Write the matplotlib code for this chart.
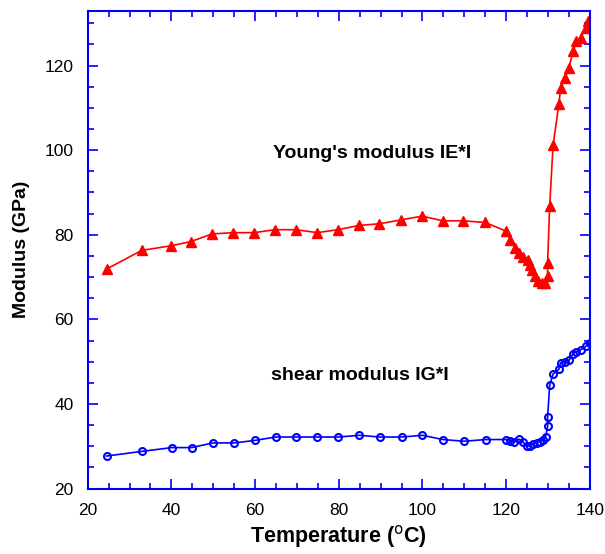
import matplotlib.pyplot as plt
from matplotlib.ticker import MultipleLocator

plt.rcParams["font.family"] = ["Liberation Sans", "DejaVu Sans"]

# Young's modulus |E*| (GPa) vs temperature (C)
young_t = [24.5, 32.9, 39.9, 44.7, 49.7, 54.8, 59.8, 64.7, 69.7, 74.9, 79.8, 84.8,
           89.7, 94.8, 99.9, 104.9, 109.7, 115.0, 119.9, 121.0, 122.1, 123.1, 124.1,
           125.1, 125.7, 126.1, 126.9, 127.7, 128.5, 129.2, 129.9, 129.9, 130.4,
           131.2, 132.6, 133.0, 134.1, 135.0, 136.0, 136.8, 137.8, 139.0, 139.6]
young_e = [71.9, 76.3, 77.4, 78.4, 80.2, 80.5, 80.5, 81.2, 81.2, 80.5, 81.2, 82.2,
           82.6, 83.5, 84.4, 83.3, 83.3, 82.9, 80.9, 78.8, 76.8, 75.7, 74.7,
           74.1, 72.9, 71.7, 70.2, 69.0, 68.7, 68.6, 70.3, 73.3, 86.9,
           101.1, 110.9, 114.7, 117.1, 119.5, 123.4, 125.7, 126.5, 128.9, 130.5]

# Shear modulus |G*| (GPa) vs temperature (C)
shear_t = [24.5, 32.9, 40.1, 44.8, 49.9, 55.0, 60.0, 64.9, 69.8, 74.9, 79.9, 84.9,
           89.8, 95.0, 100.0, 104.9, 109.9, 115.1, 119.9, 121.0, 121.9, 123.0, 124.0,
           124.9, 125.7, 126.5, 127.3, 128.1, 128.8, 129.4, 129.9, 129.9, 130.4,
           131.2, 132.6, 133.0, 134.0, 135.0, 136.0, 136.8, 137.8, 139.0, 140.0]
shear_g = [27.7, 28.8, 29.7, 29.7, 30.8, 30.8, 31.4, 32.2, 32.2, 32.2, 32.2, 32.6,
           32.2, 32.2, 32.6, 31.6, 31.2, 31.6, 31.6, 31.2, 31.0, 31.7, 31.0,
           30.1, 30.1, 30.6, 30.9, 31.1, 31.5, 32.2, 34.7, 37.0, 44.4,
           47.1, 48.2, 49.7, 49.9, 50.3, 51.9, 52.4, 52.8, 53.6, 54.5]

fig = plt.figure(figsize=(6.05, 5.54), dpi=100)
ax = fig.add_axes([0.145, 0.118, 0.830, 0.863])

ax.plot(young_t, young_e, color="#ff0000", marker="^", markersize=6.5,
        linewidth=1.2)
ax.plot(shear_t, shear_g, color="#0000ff", marker="o", markersize=5,
        markerfacecolor="none", markeredgewidth=1.5, linewidth=1.2)

# curve labels
ax.text(0.566, 0.702, "Young's modulus IE*I", transform=ax.transAxes,
        fontsize=14, fontweight="bold", ha="center", va="center")
ax.text(0.542, 0.236, "shear modulus IG*I", transform=ax.transAxes,
        fontsize=14, fontweight="bold", ha="center", va="center")

ax.set_xlim(20, 140)
ax.set_ylim(20, 133)
ax.xaxis.set_major_locator(MultipleLocator(20))
ax.xaxis.set_minor_locator(MultipleLocator(5))
ax.yaxis.set_major_locator(MultipleLocator(20))
ax.yaxis.set_minor_locator(MultipleLocator(5))

ax.tick_params(which="both", direction="in", top=True, right=True,
               color="#0000ff", width=1.2)
ax.tick_params(which="major", length=7, labelsize=12.5, pad=10)
ax.tick_params(which="minor", length=4)
for s in ax.spines.values():
    s.set_color("#0000ff")
    s.set_linewidth(1.5)

ax.set_xlabel("Temperature ($^{\\rm o}$C)", fontsize=15.5, fontweight="bold")
ax.set_ylabel("Modulus (GPa)", fontsize=14, fontweight="bold", labelpad=11)

plt.savefig("out.png", dpi=100)
